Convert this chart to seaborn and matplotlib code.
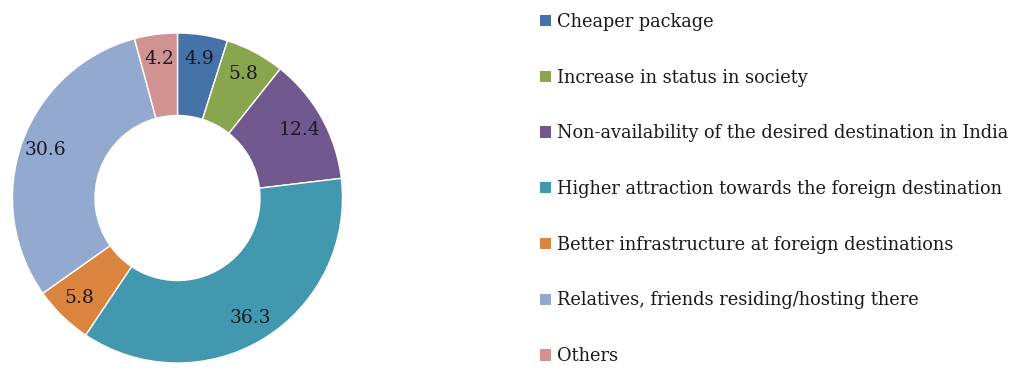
import matplotlib
matplotlib.use("Agg")
import matplotlib.pyplot as plt
from matplotlib.patches import Patch
import seaborn as sns

# Reasons for choosing a foreign destination (share of respondents, %)
categories = [
    "Cheaper package",
    "Increase in status in society",
    "Non-availability of the desired destination in India",
    "Higher attraction towards the foreign destination",
    "Better infrastructure at foreign destinations",
    "Relatives, friends residing/hosting there",
    "Others",
]
shares = [4.9, 5.8, 12.4, 36.3, 5.8, 30.6, 4.2]
colors = ["#4572A7", "#89A54E", "#71588F", "#4198AF", "#DB843D", "#93A9CF", "#D19392"]

sns.set_theme(style="white")
plt.rcParams["font.family"] = ["DejaVu Serif"]

W, H = 1019, 368
fig = plt.figure(figsize=(W / 100, H / 100), dpi=100)
fig.patch.set_facecolor("white")

# Donut axes placed in pixel terms: outer ring spans x 12..343, y 33..363 (from top)
left, right, top, bottom = 12, 343, 33, 363
ax = fig.add_axes([left / W, 1 - bottom / H, (right - left) / W, (bottom - top) / H])
wedges, _, autotexts = ax.pie(
    shares,
    colors=colors,
    startangle=90,
    counterclock=False,
    radius=1.0,
    autopct="%.1f",
    pctdistance=0.85,
    wedgeprops=dict(width=0.5, edgecolor="white", linewidth=1.0),
    textprops=dict(fontsize=13.5, color="#1a1a2a"),
)
for t, v in zip(autotexts, shares):
    t.set_text(f"{v:.1f}")
ax.set_xlim(-1, 1)
ax.set_ylim(-1, 1)
ax.set_aspect("equal")
ax.axis("off")

handles = [Patch(facecolor=c, edgecolor="none") for c in colors]
fig.legend(
    handles,
    categories,
    loc="upper left",
    bbox_to_anchor=(540 / W, 1 - 13 / H),
    frameon=False,
    fontsize=12.8,
    handlelength=0.6,
    handleheight=0.6,
    handletextpad=0.35,
    labelspacing=2.12,
    borderaxespad=0,
    borderpad=0,
    labelcolor="#1a1a1a",
)

fig.savefig("out.png", dpi=100, facecolor="white")
